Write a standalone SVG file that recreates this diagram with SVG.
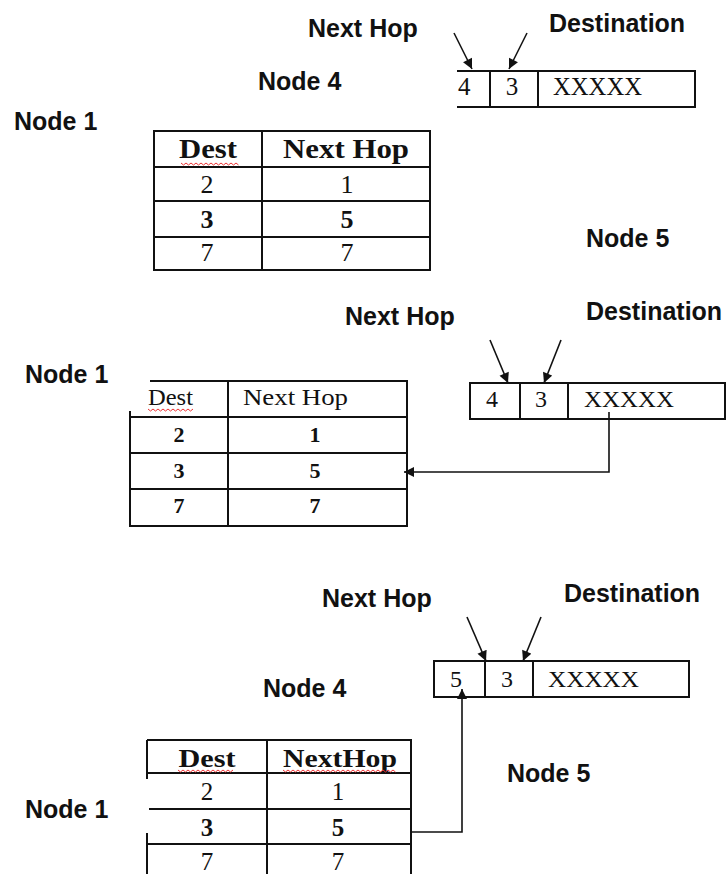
<svg xmlns="http://www.w3.org/2000/svg" width="728" height="874" viewBox="0 0 728 874">
<style>
.lbl{font-family:"Liberation Sans",Arial,sans-serif;font-weight:bold;font-size:25px;fill:#111}
.t{font-family:"Liberation Serif","Times New Roman",serif;fill:#111}
.b{font-weight:bold}
.g{stroke:#111;stroke-width:2;fill:none}
.sq{stroke:#e33;stroke-width:1;fill:none}
.c{stroke:#111;stroke-width:1.6;fill:none}
</style>
<defs>
<marker id="ah" viewBox="0 0 10 10" refX="10" refY="5" markerWidth="12" markerHeight="10" markerUnits="userSpaceOnUse" orient="auto">
<path d="M0,0 L10,5 L0,10 Z" fill="#111"/>
</marker>
</defs>
<rect width="728" height="874" fill="#fff"/>

<!-- Section 1 -->
<g id="labels1">
<text class="lbl" x="308" y="37">Next Hop</text>
<text class="lbl" x="549" y="32">Destination</text>
<text class="lbl" x="258" y="90">Node 4</text>
<text class="lbl" x="14" y="130">Node 1</text>
<text class="lbl" x="586" y="247">Node 5</text>
</g>
<g id="table1">
<rect class="g" x="154" y="131" width="276" height="139"/>
<path class="g" d="M154,167H430M154,201H430M154,237H430M262,131V270"/>
<text class="t b" font-size="27" x="208" y="158" text-anchor="middle" textLength="58" lengthAdjust="spacingAndGlyphs">Dest</text>
<path class="sq" d="M181,163 l2.5,2 l2.5,-2 l2.5,2 l2.5,-2 l2.5,2 l2.5,-2 l2.5,2 l2.5,-2 l2.5,2 l2.5,-2 l2.5,2 l2.5,-2 l2.5,2 l2.5,-2 l2.5,2 l2.5,-2 l2.5,2 l2.5,-2 l2.5,2 l2.5,-2 l2.5,2 l2.5,-2 l2.5,2"/>
<text class="t b" font-size="27" x="346" y="158" text-anchor="middle" textLength="126" lengthAdjust="spacingAndGlyphs">Next Hop</text>
<text class="t" font-size="26" x="207" y="193" text-anchor="middle">2</text>
<text class="t" font-size="26" x="347" y="193" text-anchor="middle">1</text>
<text class="t b" font-size="26" x="207" y="228" text-anchor="middle">3</text>
<text class="t b" font-size="26" x="347" y="228" text-anchor="middle">5</text>
<text class="t" font-size="26" x="207" y="261" text-anchor="middle">7</text>
<text class="t" font-size="26" x="347" y="261" text-anchor="middle">7</text>
</g>
<g id="packet1">
<path class="g" d="M457,71H695V107H457M490,71V107M538,71V107"/>
<text class="t" font-size="25" x="458" y="95">4</text>
<text class="t" font-size="25" x="512" y="95" text-anchor="middle">3</text>
<text class="t" font-size="25" x="553" y="95" textLength="89" lengthAdjust="spacingAndGlyphs">XXXXX</text>
</g>

<!-- Section 2 -->
<g id="labels2">
<text class="lbl" x="345" y="325">Next Hop</text>
<text class="lbl" x="586" y="320">Destination</text>
<text class="lbl" x="25" y="383">Node 1</text>
</g>
<g id="table2">
<path class="g" d="M150,381H407V526H130V411M130,417H407M130,453H407M130,489H407M228,381V526"/>
<text class="t" font-size="24" x="148" y="405" textLength="45" lengthAdjust="spacingAndGlyphs">Dest</text>
<path class="sq" d="M148,409 l2.5,2 l2.5,-2 l2.5,2 l2.5,-2 l2.5,2 l2.5,-2 l2.5,2 l2.5,-2 l2.5,2 l2.5,-2 l2.5,2 l2.5,-2 l2.5,2 l2.5,-2 l2.5,2 l2.5,-2 l2.5,2 l2.5,-2"/>
<text class="t" font-size="24" x="243" y="405" textLength="105" lengthAdjust="spacingAndGlyphs">Next Hop</text>
<text class="t b" font-size="22" x="179" y="442" text-anchor="middle">2</text>
<text class="t b" font-size="22" x="315" y="442" text-anchor="middle">1</text>
<text class="t b" font-size="22" x="179" y="478" text-anchor="middle">3</text>
<text class="t b" font-size="22" x="315" y="478" text-anchor="middle">5</text>
<text class="t b" font-size="22" x="179" y="513" text-anchor="middle">7</text>
<text class="t b" font-size="22" x="315" y="513" text-anchor="middle">7</text>
</g>
<g id="packet2">
<rect class="g" x="470" y="383" width="255" height="36"/>
<path class="g" d="M520,383V419M568,383V419"/>
<text class="t" font-size="24" x="492" y="407" text-anchor="middle">4</text>
<text class="t" font-size="24" x="541" y="407" text-anchor="middle">3</text>
<text class="t" font-size="24" x="584" y="407" textLength="90" lengthAdjust="spacingAndGlyphs">XXXXX</text>
</g>

<!-- Section 3 -->
<g id="labels3">
<text class="lbl" x="322" y="607">Next Hop</text>
<text class="lbl" x="564" y="602">Destination</text>
<text class="lbl" x="263" y="697">Node 4</text>
<text class="lbl" x="507" y="782">Node 5</text>
<text class="lbl" x="25" y="818">Node 1</text>
</g>
<g id="table3">
<path class="g" d="M147,740H411V874M147,773H411M149,809H411M147,844H411M267,740V874M147,740V779M147,833V874"/>
<text class="t b" font-size="26" x="207" y="767" text-anchor="middle" textLength="57" lengthAdjust="spacingAndGlyphs">Dest</text>
<path class="sq" d="M178,770 l2.5,2 l2.5,-2 l2.5,2 l2.5,-2 l2.5,2 l2.5,-2 l2.5,2 l2.5,-2 l2.5,2 l2.5,-2 l2.5,2 l2.5,-2 l2.5,2 l2.5,-2 l2.5,2 l2.5,-2 l2.5,2 l2.5,-2 l2.5,2 l2.5,-2 l2.5,2 l2.5,-2"/>
<text class="t b" font-size="26" x="283" y="767" textLength="114" lengthAdjust="spacingAndGlyphs">NextHop</text>
<path class="sq" d="M283,770 l2.5,2 l2.5,-2 l2.5,2 l2.5,-2 l2.5,2 l2.5,-2 l2.5,2 l2.5,-2 l2.5,2 l2.5,-2 l2.5,2 l2.5,-2 l2.5,2 l2.5,-2 l2.5,2 l2.5,-2 l2.5,2 l2.5,-2 l2.5,2 l2.5,-2 l2.5,2 l2.5,-2 l2.5,2 l2.5,-2 l2.5,2 l2.5,-2 l2.5,2 l2.5,-2 l2.5,2 l2.5,-2 l2.5,2 l2.5,-2 l2.5,2 l2.5,-2 l2.5,2 l2.5,-2 l2.5,2 l2.5,-2 l2.5,2 l2.5,-2 l2.5,2 l2.5,-2 l2.5,2 l2.5,-2 l2.5,2"/>
<text class="t" font-size="25" x="207" y="800" text-anchor="middle">2</text>
<text class="t" font-size="25" x="338" y="800" text-anchor="middle">1</text>
<text class="t b" font-size="25" x="207" y="836" text-anchor="middle">3</text>
<text class="t b" font-size="25" x="338" y="836" text-anchor="middle">5</text>
<text class="t" font-size="25" x="207" y="870" text-anchor="middle">7</text>
<text class="t" font-size="25" x="338" y="870" text-anchor="middle">7</text>
</g>
<g id="packet3">
<rect class="g" x="434" y="661" width="255" height="36"/>
<path class="g" d="M485,661V697M533,661V697"/>
<text class="t" font-size="24" x="456" y="687" text-anchor="middle">5</text>
<text class="t" font-size="24" x="507" y="687" text-anchor="middle">3</text>
<text class="t" font-size="24" x="548" y="687" textLength="91" lengthAdjust="spacingAndGlyphs">XXXXX</text>
</g>

<!-- Connectors -->
<g id="connectors">
<path class="c" d="M454,33L472,69" marker-end="url(#ah)"/>
<path class="c" d="M527,33L509,69" marker-end="url(#ah)"/>
<path class="c" d="M490,340L508,383" marker-end="url(#ah)"/>
<path class="c" d="M561,340L544,383" marker-end="url(#ah)"/>
<path class="c" d="M609,412V472H404" marker-end="url(#ah)"/>
<path class="c" d="M467,617L486,661" marker-end="url(#ah)"/>
<path class="c" d="M541,617L523,661" marker-end="url(#ah)"/>
<path class="c" d="M411,832H462V689" marker-end="url(#ah)"/>
</g>
</svg>
